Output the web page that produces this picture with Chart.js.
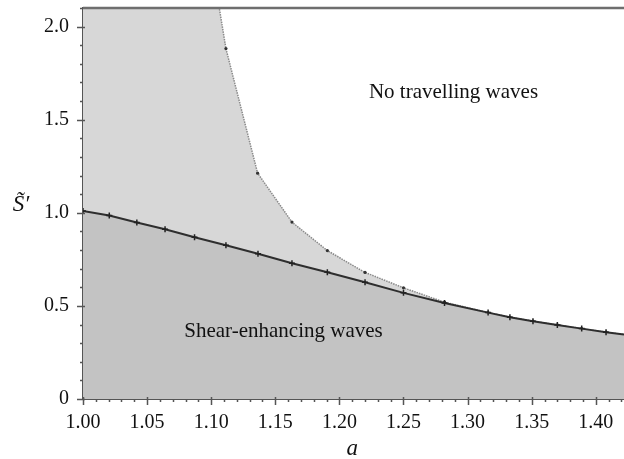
<!DOCTYPE html>
<html><head><meta charset="utf-8">
<script src="https://cdn.jsdelivr.net/npm/chart.js@4.4.1/dist/chart.umd.min.js"></script>
<style>html,body{margin:0;padding:0;background:#fff}#wrap{width:624px;height:459px}</style>
</head><body><div id="wrap"><canvas id="c" width="624" height="459"></canvas></div>
<script>
// Lower boundary (shear-enhancing waves), solid line with + markers
const xLower = [1.00,1.0205,1.042,1.064,1.087,1.1115,1.1365,1.163,1.1906,1.22,1.25,1.282,1.316,1.333,1.351,1.370,1.389,1.408,1.422];
const yLower = [1.01,0.985,0.948,0.912,0.869,0.826,0.780,0.729,0.681,0.627,0.570,0.516,0.464,0.439,0.418,0.398,0.378,0.359,0.346];
// Upper boundary (travelling waves exist below it), dotted grey line
const xUpper = [1.00,1.1063,1.1115,1.1362,1.163,1.1906,1.22,1.25,1.282,1.316,1.333,1.351,1.370,1.389,1.408,1.422];
const yUpper = [2.10,2.10,1.882,1.213,0.950,0.797,0.680,0.597,0.520,0.464,0.439,0.418,0.398,0.378,0.359,0.346];
const xTicks = [1.00,1.05,1.10,1.15,1.20,1.25,1.30,1.35,1.40];
const xTickLabels = ['1.00','1.05','1.10','1.15','1.20','1.25','1.30','1.35','1.40'];
const yTicks = [0,0.5,1.0,1.5,2.0];
const yTickLabels = ['0','0.5','1.0','1.5','2.0'];
const regionLabels = ['No travelling waves','Shear-enhancing waves'];
const regionPos = [[1.289,1.645],[1.1564,0.36]];
const xTitle = 'a';
const yTitle = 'S\u0303\u2032';

const FONT = '"Liberation Serif", "DejaVu Serif", serif';

const extras = {
  id: 'extras',
  afterDraw(chart) {
    const {ctx, chartArea: ca, scales: {x, y}} = chart;
    ctx.save();
    // top border
    ctx.strokeStyle = '#6e6e6e'; ctx.lineWidth = 2.5;
    ctx.beginPath(); ctx.moveTo(ca.left, ca.top); ctx.lineTo(ca.right, ca.top); ctx.stroke();
    // ticks
    ctx.strokeStyle = '#555'; ctx.lineWidth = 1.5;
    ctx.beginPath();
    for (let i = 0; i <= 42; i++) {
      const v = 1 + i * 0.01; const px = Math.round(x.getPixelForValue(v)) + 0.5;
      const major = i % 5 === 0;
      ctx.moveTo(px, ca.bottom - (major ? 2 : 0)); ctx.lineTo(px, ca.bottom + (major ? 6 : 3));
    }
    for (let i = 0; i <= 21; i++) {
      const v = i * 0.1; const py = Math.round(y.getPixelForValue(v)) + 0.5;
      const major = i % 5 === 0;
      ctx.moveTo(ca.left + (major ? 2 : 0), py); ctx.lineTo(ca.left - (major ? 6 : 3), py);
    }
    ctx.stroke();
    // region labels
    ctx.fillStyle = '#111'; ctx.font = '21px ' + FONT;
    ctx.textAlign = 'center'; ctx.textBaseline = 'middle';
    regionLabels.forEach((t, i) => {
      ctx.fillText(t, x.getPixelForValue(regionPos[i][0]), y.getPixelForValue(regionPos[i][1]));
    });
    // axis titles
    ctx.font = 'italic 23px ' + FONT;
    ctx.fillText(xTitle, x.getPixelForValue(1.21), ca.bottom + 50);
    ctx.fillText(yTitle, 21, y.getPixelForValue(1.04));
    ctx.restore();
  }
};

new Chart(document.getElementById('c'), {
  type: 'line',
  data: {
    datasets: [
      {
        data: xLower.map((v, i) => ({x: v, y: yLower[i]})),
        borderColor: '#2e2e2e', borderWidth: 2,
        backgroundColor: '#c3c3c3', fill: 'origin',
        pointStyle: 'cross', pointBorderColor: '#222', pointBorderWidth: 1.5,
        pointRadius: xLower.map((v, i) => i === xLower.length - 1 ? 0 : 3),
        tension: 0
      },
      {
        data: xUpper.map((v, i) => ({x: v, y: yUpper[i]})),
        borderColor: '#8a8a8a', borderWidth: 1.5, borderDash: [1.5, 1],
        backgroundColor: '#d7d7d7', fill: 'origin',
        pointStyle: 'circle', pointBackgroundColor: '#333', pointBorderColor: '#333', pointBorderWidth: 0,
        pointRadius: xUpper.map((v, i) => (i < 2 || i === xUpper.length - 1) ? 0 : 1.6),
        tension: 0
      }
    ]
  },
  options: {
    responsive: false, animation: false,
    layout: { autoPadding: false, padding: { top: 8, right: 0, left: 0, bottom: 0 } },
    plugins: { legend: { display: false }, tooltip: { enabled: false } },
    scales: {
      x: {
        type: 'linear', min: 1.0, max: 1.422,
        afterBuildTicks: s => { s.ticks = xTicks.map(v => ({value: v})); },
        afterFit: s => { s.height = 60; s.paddingLeft = 0; s.paddingRight = 0; },
        grid: { display: true, drawOnChartArea: false, drawTicks: false },
        border: { display: true, color: '#555', width: 2 },
        ticks: {
          padding: 12, color: '#111', maxRotation: 0, autoSkip: false,
          font: { family: FONT, size: 20 },
          callback: v => { const i = xTicks.findIndex(t => Math.abs(t - v) < 1e-9); return i >= 0 ? xTickLabels[i] : ''; }
        }
      },
      y: {
        type: 'linear', min: 0, max: 2.1,
        afterBuildTicks: s => { s.ticks = yTicks.map(v => ({value: v})); },
        afterFit: s => { s.width = 83; s.paddingTop = 0; s.paddingBottom = 0; },
        grid: { display: true, drawOnChartArea: false, drawTicks: false },
        border: { display: true, color: '#555', width: 2 },
        ticks: {
          padding: 14, color: '#111', autoSkip: false,
          font: { family: FONT, size: 20 },
          callback: v => { const i = yTicks.findIndex(t => Math.abs(t - v) < 1e-9); return i >= 0 ? yTickLabels[i] : ''; }
        }
      }
    }
  },
  plugins: [extras]
});
</script></body></html>
